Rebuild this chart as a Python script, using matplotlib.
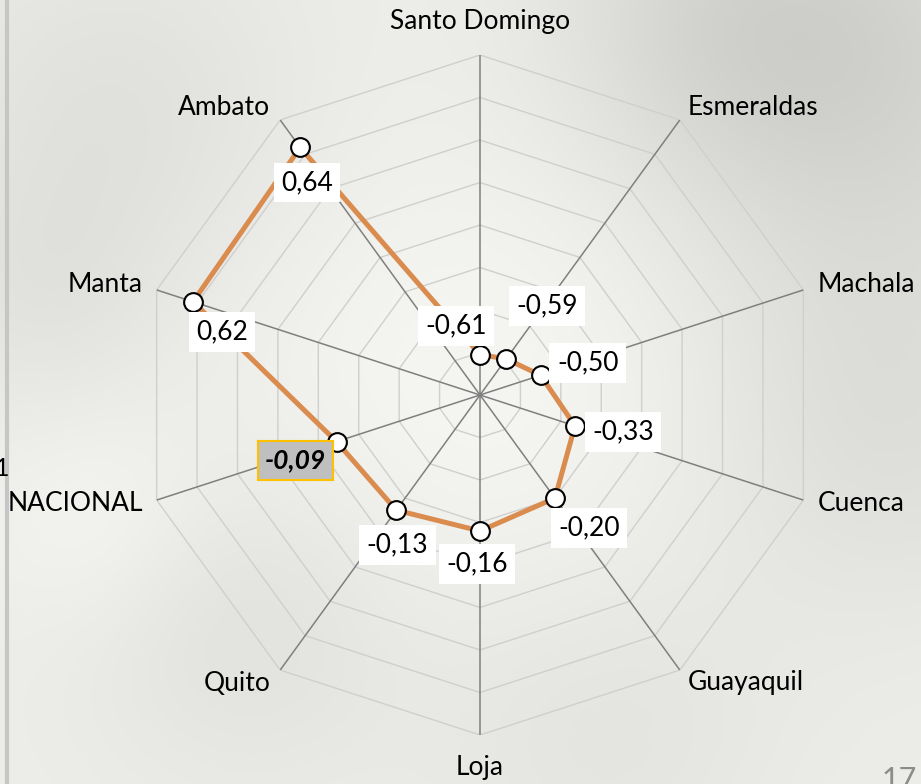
import numpy as np
import matplotlib
matplotlib.use("Agg")
import matplotlib.pyplot as plt

# data (clockwise from the top)
ciudades = ["Santo Domingo", "Esmeraldas", "Machala", "Cuenca", "Guayaquil",
            "Loja", "Quito", "NACIONAL", "Manta", "Ambato"]
valores = [-0.61, -0.59, -0.50, -0.33, -0.20, -0.16, -0.13, -0.09, 0.62, 0.64]
r_min, r_max, r_paso = -0.8, 0.8, 0.2

# label placement, pixels (dx, dy) from the point, y up
off_dato = [(-24, 29), (41, 53), (47, 12), (48, -6), (34, -30),
            (-3, -33), (1, -35), (-41, -19), (29, -30), (7, -35)]
off_cat = [((0, 33), "center"), ((8, 12), "left"), ((14, 5), "left"),
           ((14, -3), "left"), ((8, -12), "left"), ((0, -33), "center"),
           ((-10, -13), "right"), ((-14, -3), "right"), ((-14, 5), "right"),
           ((-10, 12), "right")]

plt.rcParams["font.family"] = ["Lato", "DejaVu Sans"]

W, H = 921, 784
fig = plt.figure(figsize=(W / 100, H / 100), dpi=100)

# blurred grey backdrop
bg = fig.add_axes([0, 0, 1, 1])
yy, xx = np.mgrid[0:H, 0:W]
img = np.full((H, W), 0.93)
for cx, cy, s, a in [(860, 60, 160, -0.10), (700, 20, 120, -0.05), (120, 120, 140, -0.05),
                     (250, 620, 120, -0.05), (880, 420, 140, -0.06), (480, 400, 200, 0.035),
                     (100, 520, 80, 0.03), (600, 720, 130, -0.04), (40, 300, 90, -0.03)]:
    img += a * np.exp(-((xx - cx) ** 2 + (yy - cy) ** 2) / (2 * s ** 2))
img = np.clip(img, 0, 1)
rgb = np.dstack([img, img, img * 0.985])
bg.imshow(rgb, extent=[0, W, H, 0], aspect="auto")
bg.plot([7, 7], [0, H], color="#c6c6c6", lw=3)
bg.text(9, 468, "1", ha="right", va="center", fontsize=18, color="black")
bg.text(882, 766, "17", ha="left", va="top", fontsize=22, color="#8c8c8c")
bg.set_xlim(0, W)
bg.set_ylim(H, 0)
bg.axis("off")

# radar
cx, cy, R = 480, 395, 340
ax = fig.add_axes([(cx - R) / W, (H - cy - R) / H, 2 * R / W, 2 * R / H], projection="polar")
ax.set_theta_offset(np.pi / 2)
ax.set_theta_direction(-1)
ax.set_ylim(r_min, r_max)
ax.patch.set_alpha(0)
ax.grid(False)
ax.spines["polar"].set_visible(False)
ax.set_xticks([])
ax.set_yticks([])

n = len(ciudades)
ang = np.arange(n) * 2 * np.pi / n
ang_c = np.append(ang, ang[0])

for lvl in np.arange(r_min + r_paso, r_max + 1e-9, r_paso):
    ax.plot(ang_c, np.full(n + 1, lvl), color="#cfcfcf", lw=1.0, zorder=1)
for a in ang:
    ax.plot([a, a], [r_min, r_max], color="#7f7f7f", lw=1.1, zorder=2)

vals_c = np.append(valores, valores[0])
ax.plot(ang_c, vals_c, color="#da8b4e", lw=3.6, zorder=3, solid_joinstyle="miter")
ax.plot(ang, valores, "o", ms=13.5, mfc="white", mec="black", mew=1.5, zorder=4)

for i, (a, v) in enumerate(zip(ang, valores)):
    txt = ("%.2f" % v).replace(".", ",")
    if ciudades[i] == "NACIONAL":
        box = dict(boxstyle="square,pad=0.28", fc="#bfbfbf", ec="#ffc000", lw=1.5)
        ax.annotate(txt, (a, v), xytext=off_dato[i], textcoords="offset pixels",
                    ha="center", va="center", fontsize=19, fontweight="bold",
                    fontstyle="italic", bbox=box, zorder=5, annotation_clip=False)
    else:
        box = dict(boxstyle="square,pad=0.28", fc="white", ec="none")
        ax.annotate(txt, (a, v), xytext=off_dato[i], textcoords="offset pixels",
                    ha="center", va="center", fontsize=19, bbox=box, zorder=5,
                    annotation_clip=False)

for i, a in enumerate(ang):
    off, ha = off_cat[i]
    ax.annotate(ciudades[i], (a, r_max), xytext=off, textcoords="offset pixels",
                ha=ha, va="center", fontsize=19, annotation_clip=False)

fig.savefig("out.png", dpi=100)
